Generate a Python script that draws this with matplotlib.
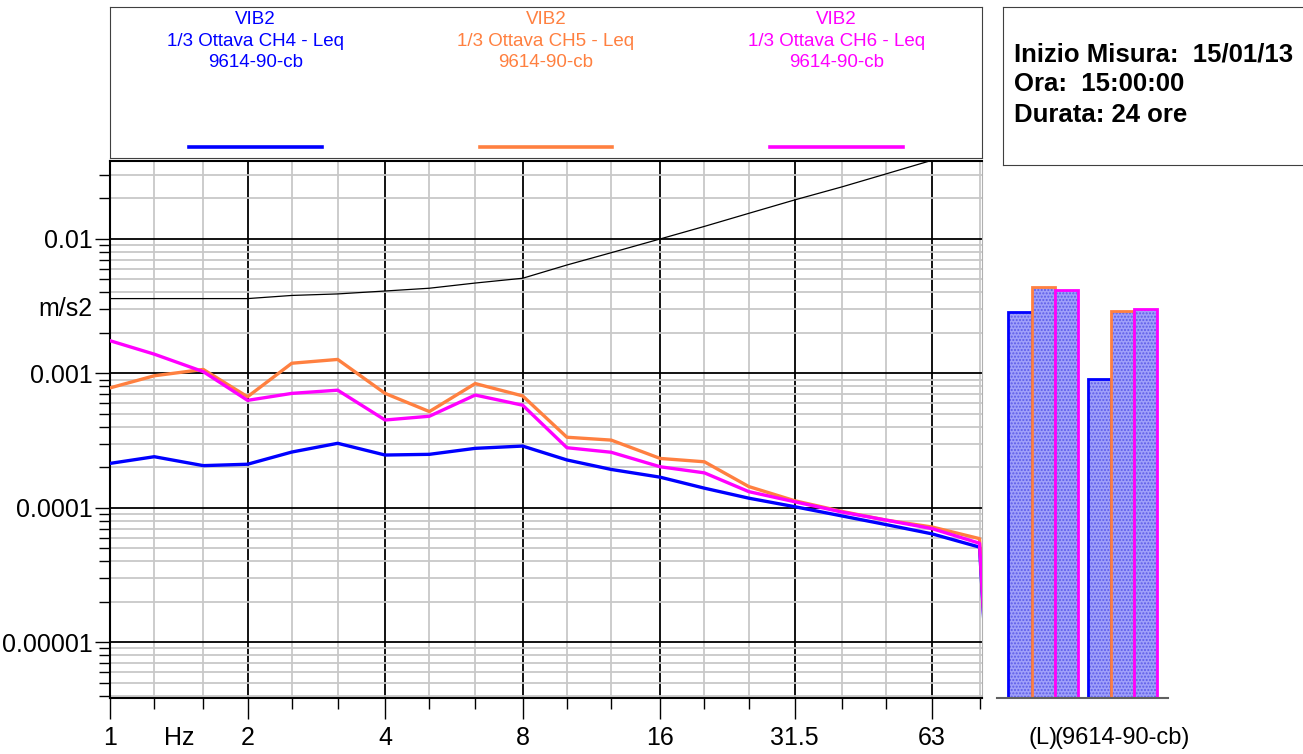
import numpy as np
import matplotlib
matplotlib.use('Agg')
import matplotlib.pyplot as plt
import matplotlib.transforms as mtransforms
from matplotlib.ticker import FixedLocator, FixedFormatter, NullFormatter, LogLocator, FuncFormatter

plt.rcParams['font.family'] = ['Liberation Sans', 'DejaVu Sans']

# 1/3 octave bands (Hz); the 100 Hz band falls just outside the plot
bands = [1, 1.25, 1.6, 2, 2.5, 3.15, 4, 5, 6.3, 8, 10, 12.5, 16, 20, 25, 31.5, 40, 50, 63, 80, 100]

# Leq per band, m/s2
ch4 = [2.14e-4, 2.40e-4, 2.06e-4, 2.11e-4, 2.60e-4, 3.02e-4, 2.47e-4, 2.50e-4, 2.77e-4, 2.88e-4,
       2.27e-4, 1.93e-4, 1.69e-4, 1.40e-4, 1.18e-4, 1.02e-4, 8.7e-5, 7.5e-5, 6.4e-5, 5.1e-5, 1e-10]
ch5 = [7.8e-4, 9.6e-4, 1.07e-3, 6.7e-4, 1.19e-3, 1.27e-3, 7.1e-4, 5.2e-4, 8.4e-4, 6.8e-4,
       3.35e-4, 3.19e-4, 2.33e-4, 2.20e-4, 1.44e-4, 1.13e-4, 9.4e-5, 8.1e-5, 7.2e-5, 5.9e-5, 1e-10]
ch6 = [1.75e-3, 1.39e-3, 1.03e-3, 6.3e-4, 7.1e-4, 7.5e-4, 4.5e-4, 4.8e-4, 6.9e-4, 5.8e-4,
       2.8e-4, 2.59e-4, 2.02e-4, 1.82e-4, 1.32e-4, 1.11e-4, 9.3e-5, 8.1e-5, 7.0e-5, 5.45e-5, 1e-10]

# reference limit curve
limit_bands = [1, 1.25, 1.6, 2, 2.5, 3.15, 4, 5, 6.3, 8, 10, 12.5, 16, 20, 25, 31.5, 40, 50, 63, 80]
limit = [0.0036, 0.0036, 0.0036, 0.0036, 0.0038, 0.0039, 0.0041, 0.0043, 0.0047, 0.0051,
         0.0064, 0.0079, 0.0100, 0.0124, 0.0155, 0.0195, 0.0244, 0.0305, 0.0385, 0.048]

octave_ticks = [1, 2, 4, 8, 16, 31.5, 63]
octave_labels = ['1', '2', '4', '8', '16', '31.5', '63']

# overall values
bar_groups = ['(L)', '(9614-90-cb)']
bar_ch4 = [2.88e-3, 9.1e-4]
bar_ch5 = [4.42e-3, 2.93e-3]
bar_ch6 = [4.17e-3, 3.01e-3]

series_labels = ['VIB2\n1/3 Ottava CH4 - Leq\n9614-90-cb',
                 'VIB2\n1/3 Ottava CH5 - Leq\n9614-90-cb',
                 'VIB2\n1/3 Ottava CH6 - Leq\n9614-90-cb']
colors = ['#0000ff', '#ff8040', '#ff00ff']

info_lines = ['Inizio Misura:  15/01/13', 'Ora:  15:00:00', 'Durata: 24 ore']

W, H = 1303, 754
fig = plt.figure(figsize=(W / 100, H / 100), dpi=100)


def box(x0, y0, x1, y1):
    return [x0 / W, 1 - y1 / H, (x1 - x0) / W, (y1 - y0) / H]


ymin, ymax = 3.85e-6, 0.038

# main spectrum plot
ax = fig.add_axes(box(110, 161, 982, 698))
ax.set_xscale('log')
ax.set_yscale('log')
ax.set_xlim(1, 81)
ax.set_ylim(ymin, ymax)

ax.plot(limit_bands, limit, color='black', lw=0.9, zorder=3)
for vals, c in zip([ch4, ch5, ch6], colors):
    ax.plot(bands, vals, color=c, lw=2.4, zorder=4)

ax.xaxis.set_major_locator(FixedLocator(octave_ticks))
ax.xaxis.set_major_formatter(FixedFormatter(octave_labels))
ax.xaxis.set_minor_locator(FixedLocator(bands))
ax.xaxis.set_minor_formatter(NullFormatter())
ax.yaxis.set_major_locator(LogLocator(base=10, numticks=12))
ax.yaxis.set_minor_locator(LogLocator(base=10, subs=np.arange(2, 10), numticks=12))
ax.yaxis.set_major_formatter(FuncFormatter(lambda v, _: f'{v:.{int(round(-np.log10(v)))}f}'))
ax.yaxis.set_minor_formatter(NullFormatter())

ax.tick_params(axis='x', which='major', length=15, width=1, pad=5, labelsize=18)
ax.tick_params(axis='x', which='minor', length=8, width=1)
ax.tick_params(axis='y', which='major', length=10.8, width=1, pad=1.5, labelsize=18)
ax.tick_params(axis='y', which='minor', length=8, width=1)

ax.grid(which='minor', color='#c8c8c8', lw=1.3)
ax.grid(which='major', color='black', lw=1.3)
ax.set_axisbelow(True)
for s in ['left', 'bottom', 'top']:
    ax.spines[s].set_linewidth(1.5)
ax.spines['right'].set_color('#b0b0b0')

hz_off = mtransforms.ScaledTranslation(0, -20 / 72, fig.dpi_scale_trans)
ax.text(np.sqrt(2), 0, 'Hz', transform=ax.get_xaxis_transform() + hz_off,
        ha='center', va='top', fontsize=18)
unit_off = mtransforms.ScaledTranslation(-12.3 / 72, 0, fig.dpi_scale_trans)
ax.text(0, 0.003, 'm/s2', transform=ax.get_yaxis_transform() + unit_off,
        ha='right', va='center', fontsize=18)

# overall bars
bax = fig.add_axes(box(997, 161, 1168, 698))
bax.set_yscale('log')
bax.set_ylim(ymin, ymax)
bax.set_xlim(-0.579, 1.572)
x = np.arange(len(bar_groups))
bw = 0.29
for i, (vals, c) in enumerate(zip([bar_ch4, bar_ch5, bar_ch6], colors)):
    pos = x + (i - 1) * bw
    hts = np.array(vals) - ymin
    bax.bar(pos, hts, bottom=ymin, width=bw, color='#a0a0fa', hatch='.....',
            edgecolor='#5c5ce8', lw=0)
    bax.bar(pos, hts, bottom=ymin, width=bw, fill=False, edgecolor=c, lw=2)
bax.set_xticks(x)
bax.set_xticklabels(bar_groups, fontsize=17)
bax.tick_params(axis='x', length=0, pad=21)
bax.yaxis.set_visible(False)
bax.minorticks_off()
for s in ['left', 'right', 'top']:
    bax.spines[s].set_visible(False)
bax.spines['bottom'].set_color('#606060')
bax.spines['bottom'].set_linewidth(1.5)

# legend panel
lax = fig.add_axes(box(110, 7, 982, 158))
lax.set_xticks([])
lax.set_yticks([])
for s in lax.spines.values():
    s.set_color('#404040')
for k, (lab, c) in enumerate(zip(series_labels, colors)):
    cx = (2 * k + 1) / 6
    lax.text(cx, 0.972, lab, color=c, ha='center', va='top', fontsize=13.5,
             linespacing=1.33, transform=lax.transAxes)
    lax.plot([cx - 0.076, cx + 0.076], [0.073, 0.073], color=c, lw=2.6,
             transform=lax.transAxes)
lax.set_xlim(0, 1)
lax.set_ylim(0, 1)

# measurement info panel
iax = fig.add_axes(box(1003, 7, 1320, 165))
iax.set_xticks([])
iax.set_yticks([])
for s in iax.spines.values():
    s.set_color('#404040')
iax.text(0.035, 0.51, '\n'.join(info_lines), ha='left', va='center', fontsize=18.5,
         fontweight='bold', linespacing=1.32, transform=iax.transAxes)

fig.savefig('out.png', dpi=100)
